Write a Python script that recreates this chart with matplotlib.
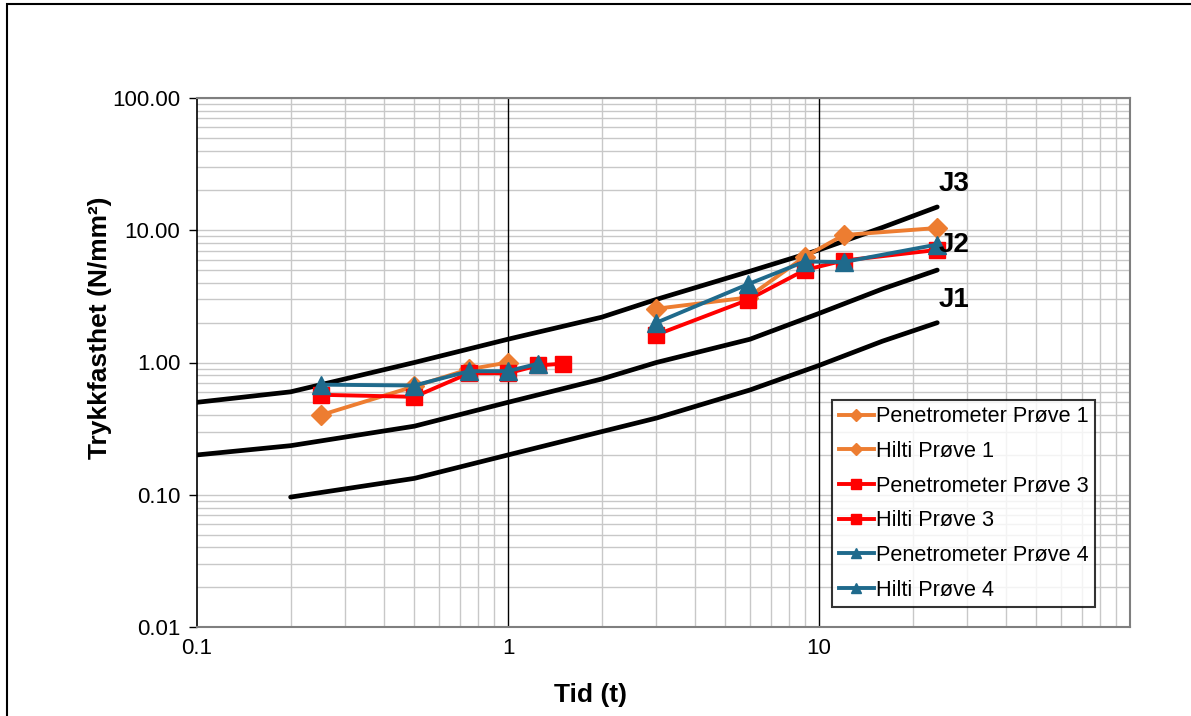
import matplotlib
matplotlib.use("Agg")
import matplotlib.pyplot as plt
from matplotlib.ticker import FixedLocator, NullFormatter, FuncFormatter
from matplotlib.patches import Rectangle

plt.rcParams['font.family'] = ['Liberation Sans', 'DejaVu Sans']

# ---- data ----
pen_t = [0.25, 0.5, 0.75, 1.0, 1.25, 1.5]
hilti_t = [3.0, 5.9, 9.0, 12.0, 24.0]

pen1 = [0.40, 0.66, 0.89, 1.00]
hilti1 = [2.55, 3.1, 6.3, 9.2, 10.4]
pen3 = [0.57, 0.55, 0.83, 0.83, 0.95, 0.98]
hilti3 = [1.62, 2.97, 5.0, 5.9, 7.1]
pen4 = [0.68, 0.67, 0.86, 0.86, 0.98]
hilti4 = [2.0, 3.9, 5.8, 5.75, 7.8]

j_t = [0.1, 0.2, 0.5, 1.0, 2.0, 3.0, 6.0, 10.0, 16.0, 24.0]
j1 = [None, 0.096, 0.133, 0.2, 0.30, 0.38, 0.62, 0.95, 1.45, 2.0]
j2 = [0.2, 0.235, 0.33, 0.5, 0.75, 1.0, 1.5, 2.35, 3.6, 5.0]
j3 = [0.5, 0.6, 1.0, 1.5, 2.2, 3.0, 4.9, 7.1, 10.5, 15.0]

labels = ["Penetrometer Prøve 1", "Hilti Prøve 1", "Penetrometer Prøve 3",
          "Hilti Prøve 3", "Penetrometer Prøve 4", "Hilti Prøve 4"]
x_ticks = [0.1, 1, 10, 100]
y_ticks = [0.01, 0.1, 1, 10, 100]

c_orange = '#ED7D31'
c_red = '#FF0000'
c_blue = '#1F6A8C'

fig = plt.figure(figsize=(11.91, 7.16), dpi=100)
ax = fig.add_axes([197/1191, 1-627/716, 933/1191, 529/716])
ax.set_xscale('log')
ax.set_yscale('log')
ax.set_xlim(0.1, 100)
ax.set_ylim(0.01, 100)

# J curves
def clean(t, v):
    pts = [(a, b) for a, b in zip(t, v) if b is not None]
    return [p[0] for p in pts], [p[1] for p in pts]

for vals in (j1, j2, j3):
    xs, ys = clean(j_t, vals)
    ax.plot(xs, ys, color='black', lw=3.4, solid_capstyle='round', zorder=3)

lw = 2.8
# series
ax.plot(pen_t[:len(pen1)], pen1, color=c_orange, marker='D', ms=10.5, lw=lw, label=labels[0], zorder=4)
ax.plot(hilti_t, hilti1, color=c_orange, marker='D', ms=10.5, lw=lw, label=labels[1], zorder=4)
ax.plot(pen_t[:len(pen3)], pen3, color=c_red, marker='s', ms=12, lw=lw, label=labels[2], zorder=5)
ax.plot(hilti_t, hilti3, color=c_red, marker='s', ms=12, lw=lw, label=labels[3], zorder=5)
ax.plot(pen_t[:len(pen4)], pen4, color=c_blue, marker='^', ms=13, lw=lw, label=labels[4], zorder=6)
ax.plot(hilti_t, hilti4, color=c_blue, marker='^', ms=13, lw=lw, label=labels[5], zorder=6)

# J labels
for txt, yv in (("J3", 22.3), ("J2", 7.8), ("J1", 2.95)):
    ax.text(24.3, yv, txt, fontsize=20, fontweight='bold', ha='left', va='center', zorder=7)

# grid
minor_x = [m * 10**e for e in (-1, 0, 1) for m in range(2, 10)]
minor_y = [m * 10**e for e in (-2, -1, 0, 1) for m in range(2, 10)]
ax.xaxis.set_major_locator(FixedLocator(x_ticks))
ax.xaxis.set_minor_locator(FixedLocator(minor_x))
ax.yaxis.set_major_locator(FixedLocator(y_ticks))
ax.yaxis.set_minor_locator(FixedLocator(minor_y))
ax.xaxis.set_minor_formatter(NullFormatter())
ax.yaxis.set_minor_formatter(NullFormatter())
ax.xaxis.set_major_formatter(FuncFormatter(lambda v, p: '' if v >= 100 else ('%g' % v)))
ax.yaxis.set_major_formatter(FuncFormatter(lambda v, p: '%.2f' % v))

ax.grid(True, which='minor', color='#C8C8C8', lw=1.0, zorder=0)
ax.grid(True, which='major', axis='y', color='#C8C8C8', lw=1.0, zorder=0)
for xv in (1, 10):
    ax.axvline(xv, color='black', lw=1.0, zorder=1)
ax.set_axisbelow(True)

ax.tick_params(axis='x', which='both', length=0, labelsize=16, pad=8)
ax.tick_params(axis='y', which='major', length=6, width=1, direction='out', labelsize=16, pad=6)
ax.tick_params(axis='y', which='minor', length=0)

for s in ('top', 'right', 'bottom'):
    ax.spines[s].set_color('#7F7F7F')
    ax.spines[s].set_linewidth(1.5)
ax.spines['left'].set_color('black')
ax.spines['left'].set_linewidth(1.2)

ax.set_xlabel('Tid (t)', fontsize=19, fontweight='bold')
ax.xaxis.set_label_coords((590-197)/933, -(683-627)/529)
ax.set_ylabel('Trykkfasthet (N/mm²)', fontsize=19, fontweight='bold')
ax.yaxis.set_label_coords(-(197-112)/933, (627-328)/529)

leg = ax.legend(loc='lower right', bbox_to_anchor=((1095-197)/933, (627-607)/529),
                fontsize=15.6, frameon=True, fancybox=False, edgecolor='black',
                handlelength=1.6, handletextpad=0.1, labelspacing=0.63,
                borderpad=0.3, borderaxespad=0, markerscale=0.55)
leg.get_frame().set_linewidth(1.5)
leg.set_zorder(10)

fig.patches.append(Rectangle((7/1191, -0.05), 1.2, 1-4/716 + 0.05, transform=fig.transFigure,
                             fill=False, edgecolor='black', lw=1.5))

fig.savefig('out.png', dpi=100)
